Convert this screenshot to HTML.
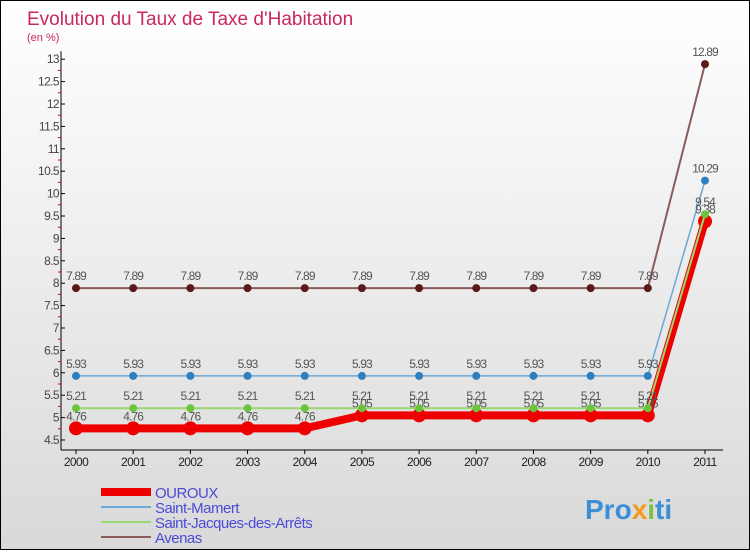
<!DOCTYPE html>
<html><head><meta charset="utf-8"><style>
html,body{margin:0;padding:0}
body{width:750px;height:550px;overflow:hidden;font-family:"Liberation Sans",sans-serif}
#wrap{position:relative;width:748px;height:548px;border:1px solid #000;background:linear-gradient(#fff,#d9d9d9)}
</style></head><body>
<div id="wrap">
<svg id="chart" width="748" height="548">
<text x="26" y="24" font-size="19" fill="#c8285a">Evolution du Taux de Taxe d'Habitation</text>
<text x="26" y="40" font-size="11" fill="#c8285a">(en %)</text>
<g id="axes"></g><g id="series"></g><g id="legend"></g>
<text x="584" y="518" font-size="28" font-weight="bold" fill="#3b8fd6">Pro<tspan fill="#f39a1c">x</tspan><tspan fill="#7bc043">i</tspan>ti</text>
</svg>
</div>
<script>
const years=[2000,2001,2002,2003,2004,2005,2006,2007,2008,2009,2010,2011];
const yTicks=[4.5,5,5.5,6,6.5,7,7.5,8,8.5,9,9.5,10,10.5,11,11.5,12,12.5,13];
const seriesNames=["OUROUX","Saint-Mamert","Saint-Jacques-des-Arrêts","Avenas"];
const ouroux=[4.76,4.76,4.76,4.76,4.76,5.05,5.05,5.05,5.05,5.05,5.05,9.38];
const saintMamert=[5.93,5.93,5.93,5.93,5.93,5.93,5.93,5.93,5.93,5.93,5.93,10.29];
const saintJacques=[5.21,5.21,5.21,5.21,5.21,5.21,5.21,5.21,5.21,5.21,5.21,9.54];
const avenas=[7.89,7.89,7.89,7.89,7.89,7.89,7.89,7.89,7.89,7.89,7.89,12.89];
const NS="http://www.w3.org/2000/svg";
const X=i=>75+i*(629/11);
const Y=v=>439-(v-4.5)*44.8;
function mk(tag,attrs,parent,txt){const e=document.createElementNS(NS,tag);for(const k in attrs)e.setAttribute(k,attrs[k]);if(txt!==undefined)e.textContent=txt;parent.appendChild(e);return e;}
const axes=document.getElementById('axes');
const al=mk('line',{x1:60,y1:Y(13)-8,x2:60,y2:449,stroke:'#000'},axes);


const xl=mk('line',{x1:60,y1:449,x2:722,y2:449,stroke:'#000'},axes);


yTicks.forEach((t,i)=>{
 const y=Y(t);
 mk('line',{x1:60,y1:y,x2:64,y2:y,stroke:'#000'},axes);
 const lb=mk('text',{x:58,y:y+4,'font-size':12,fill:'#444','text-anchor':'end','letter-spacing':'-0.6'},axes,String(t));
 
 
 if(i<yTicks.length-1) mk('line',{x1:57,y1:y-11.2,x2:60,y2:y-11.2,stroke:'#d00'},axes);
});
years.forEach((yr,i)=>{
 const x=X(i);
 mk('line',{x1:x,y1:449,x2:x,y2:453,stroke:'#000'},axes);
 const lb=mk('text',{x:x,y:465,'font-size':12,fill:'#222','text-anchor':'middle','letter-spacing':'-0.6'},axes,String(yr));
 
 
});
const sg=document.getElementById('series');
function draw(vals,color,dot,width,r,name){
 const g=mk('g',{},sg);
 
 
 mk('polyline',{points:vals.map((v,i)=>X(i)+','+Y(v)).join(' '),fill:'none',stroke:color,'stroke-width':width},g);
 vals.forEach((v,i)=>{
  const c=mk('circle',{cx:X(i),cy:Y(v),r:r,fill:dot},g);
  
  
  const t=mk('text',{x:X(i),y:Y(v)-8,'font-size':12,fill:'#555','text-anchor':'middle','letter-spacing':'-0.9'},g,String(v));
  
  
 });
}
draw(avenas,'#8b5a5a','#5a1a1a',2,4,'series-avenas');
draw(saintMamert,'#6aa8d8','#2e7fc0',1.5,4,'series-saint-mamert');
draw(ouroux,'#ee0000','#ee0000',8,7,'series-ouroux');
draw(saintJacques,'#9ad870','#6cc43c',2,4,'series-saint-jacques');
const lg=document.getElementById('legend');
const lc=['#ee0000','#6aa8d8','#9ad870','#8b5a5a'];
const lw=[8,2,2,2];
seriesNames.forEach((n,i)=>{
 const y=491+i*15;
 const g=mk('g',{},lg);
 
 
 mk('line',{x1:100,y1:y,x2:150,y2:y,stroke:lc[i],'stroke-width':lw[i]},g);
 mk('text',{x:154,y:y+6,'font-size':15,fill:'#4b4bd8','letter-spacing':'-0.5'},g,n);
});
</script>
</body></html>
